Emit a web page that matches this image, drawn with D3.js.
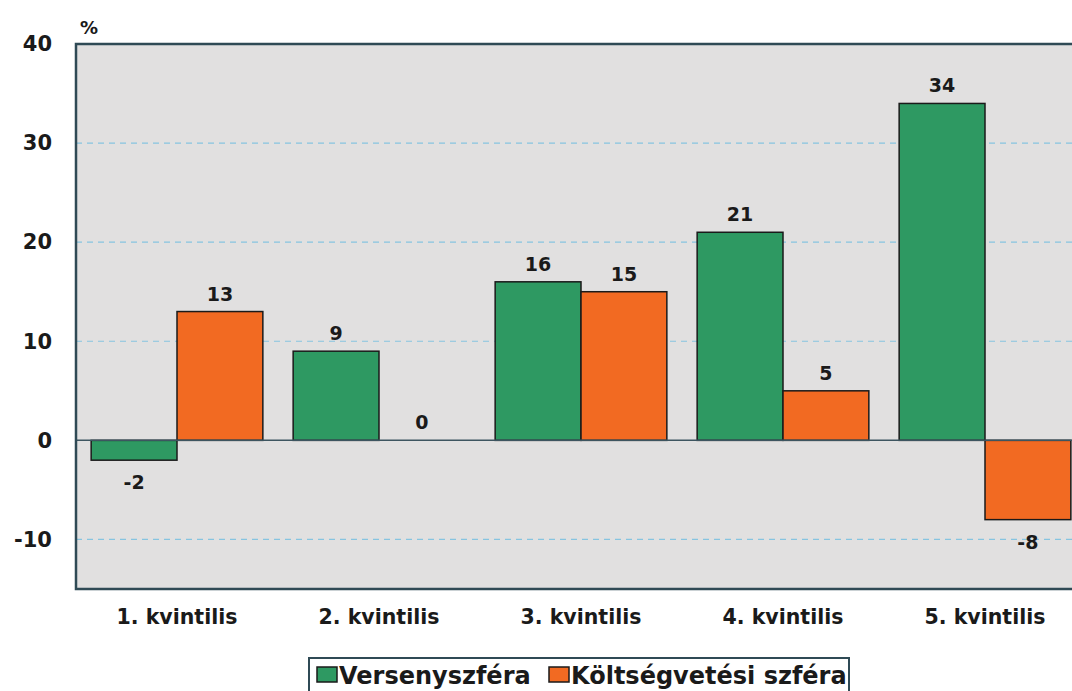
<!DOCTYPE html>
<html>
<head>
<meta charset="utf-8">
<script src="https://cdn.jsdelivr.net/npm/d3@7/dist/d3.min.js"></script>
<style>
  html, body { margin: 0; padding: 0; background: #fff; overflow: hidden; }
  svg { display: block; }
  text { font-family: "DejaVu Sans", Verdana, sans-serif; font-weight: bold; fill: #1a1a1a; }
</style>
</head>
<body>
<svg id="chart" width="1072" height="691"></svg>
<script>
// Wage change by income quintile, two sectors (%)
const categories = ["1. kvintilis", "2. kvintilis", "3. kvintilis", "4. kvintilis", "5. kvintilis"];
const seriesNames = ["Versenyszféra", "Költségvetési szféra"];
const versenyszfera = [-2, 9, 16, 21, 34];
const koltsegvetesi = [13, 0, 15, 5, -8];
const yTicks = [-10, 0, 10, 20, 30, 40];
const colors = ["#2e9962", "#f26a22"];

const svg = d3.select("#chart");

const plot = { left: 76, right: 1086, top: 44, bottom: 589 };

const y = d3.scaleLinear().domain([-15, 40]).range([plot.bottom, plot.top]);
const x0 = d3.scaleBand().domain(categories).range([plot.left, plot.right]).paddingInner(0.15).paddingOuter(0.075);
const x1 = d3.scaleBand().domain(seriesNames).range([0, x0.bandwidth()]);

// plot background
svg.append("rect")
  .attr("x", plot.left).attr("y", plot.top)
  .attr("width", plot.right - plot.left).attr("height", plot.bottom - plot.top)
  .attr("fill", "#e1e0e0");

// dashed grid lines
svg.append("g").selectAll("line")
  .data(yTicks.filter(d => d !== 0 && d !== 40))
  .join("line")
  .attr("x1", plot.left).attr("x2", plot.right)
  .attr("y1", d => y(d)).attr("y2", d => y(d))
  .attr("stroke", "#86c4e0").attr("stroke-width", 1.2)
  .attr("stroke-dasharray", "6,5");

// y axis labels (plain hyphen for negatives)
const yAxis = d3.axisLeft(y).tickValues(yTicks).tickSize(0).tickPadding(24).tickFormat(d => String(d));
const yg = svg.append("g").attr("transform", `translate(${plot.left},0)`).call(yAxis);
yg.select(".domain").remove();
yg.selectAll("text")
  .style("font-family", "'DejaVu Sans', Verdana, sans-serif")
  .style("font-weight", "bold").style("font-size", "21px").attr("fill", "#1a1a1a");

// unit label
svg.append("text").attr("x", 80).attr("y", 34).style("font-size", "18px").text("%");

// bars
const rows = categories.map((c, i) => ({ cat: c, vals: [versenyszfera[i], koltsegvetesi[i]] }));
const groups = svg.append("g").selectAll("g")
  .data(rows).join("g")
  .attr("transform", d => `translate(${x0(d.cat)},0)`);

groups.selectAll("rect")
  .data(d => d.vals.map((v, j) => ({ v, s: seriesNames[j], j })))
  .join("rect")
  .attr("x", d => x1(d.s))
  .attr("width", x1.bandwidth())
  .attr("y", d => y(Math.max(0, d.v)))
  .attr("height", d => Math.abs(y(d.v) - y(0)))
  .attr("fill", d => colors[d.j])
  .attr("stroke", d => d.v === 0 ? "none" : "#1a1a1a")
  .attr("stroke-width", 1.5);

// value labels
groups.selectAll("text")
  .data(d => d.vals.map((v, j) => ({ v, s: seriesNames[j] })))
  .join("text")
  .attr("x", d => x1(d.s) + x1.bandwidth() / 2)
  .attr("y", d => d.v >= 0 ? y(d.v) - 11 : y(d.v) + 29)
  .attr("text-anchor", "middle")
  .style("font-size", "19px")
  .text(d => d.v);

// zero line
svg.append("line")
  .attr("x1", plot.left).attr("x2", plot.right)
  .attr("y1", y(0)).attr("y2", y(0))
  .attr("stroke", "#3d5560").attr("stroke-width", 1.5);

// plot frame
svg.append("rect")
  .attr("x", plot.left).attr("y", plot.top)
  .attr("width", plot.right - plot.left).attr("height", plot.bottom - plot.top)
  .attr("fill", "none").attr("stroke", "#2f4a55").attr("stroke-width", 2.5);

// category labels
svg.append("g").selectAll("text")
  .data(categories).join("text")
  .attr("x", d => x0(d) + x0.bandwidth() / 2)
  .attr("y", 624)
  .attr("text-anchor", "middle")
  .style("font-size", "20.5px")
  .text(d => d);

// legend
const legend = svg.append("g");
legend.append("rect")
  .attr("x", 309).attr("y", 658).attr("width", 540).attr("height", 40)
  .attr("fill", "#fff").attr("stroke", "#2f4a55").attr("stroke-width", 2);
const items = [
  { name: seriesNames[0], color: colors[0], x: 317 },
  { name: seriesNames[1], color: colors[1], x: 549 }
];
const li = legend.selectAll("g.item").data(items).join("g").attr("class", "item")
  .attr("transform", d => `translate(${d.x},0)`);
li.append("rect")
  .attr("x", 0).attr("y", 667).attr("width", 20).attr("height", 15)
  .attr("fill", d => d.color).attr("stroke", "#1a1a1a").attr("stroke-width", 1.5);
li.append("text")
  .attr("x", 22).attr("y", 684)
  .style("font-size", "24px")
  .text(d => d.name);
</script>
</body>
</html>
